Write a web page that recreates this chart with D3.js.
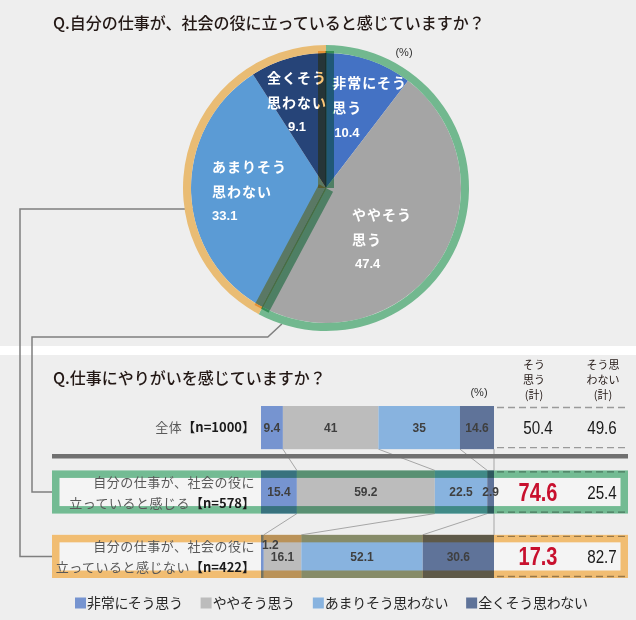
<!DOCTYPE html>
<html><head><meta charset="utf-8">
<script src="https://cdn.jsdelivr.net/npm/d3@7"></script>
<style>
html,body{margin:0;padding:0;background:#eeeeee;}
svg{display:block;}
</style></head><body>
<svg id="c" width="636" height="620"></svg>
<script>
// ---------- data ----------
const pieTitle = "Q.自分の仕事が、社会の役に立っていると感じていますか？";
const barTitle = "Q.仕事にやりがいを感じていますか？";
const categories = ["非常にそう思う","ややそう思う","あまりそう思わない","全くそう思わない"];
const pieLabelLines = [["非常にそう","思う"],["ややそう","思う"],["あまりそう","思わない"],["全くそう","思わない"]];
const pieValues = [10.4, 47.4, 33.1, 9.1];
const groupMembers = [[0,1],[2,3]];          // そう思う / そう思わない
const rowKeys = ["total","feel","notFeel"];
const rowNameLines = [["全体"],["自分の仕事が、社会の役に","立っていると感じる"],["自分の仕事が、社会の役に","立っていると感じない"]];
const rowN = ["【n=1000】","【n=578】","【n=422】"];
const totalValues   = [9.4, 41, 35, 14.6];
const feelValues    = [15.4, 59.2, 22.5, 2.9];
const notFeelValues = [1.2, 16.1, 52.1, 30.6];
const agreeSum    = [50.4, 74.6, 17.3];
const disagreeSum = [49.6, 25.4, 82.7];
const agreeHeader    = ["そう","思う","(計)"];
const disagreeHeader = ["そう思","わない","(計)"];
const unitLabel = "(%)";

// ---------- style ----------
const JP = "'Noto Sans CJK JP','Noto Sans',sans-serif";
const NUM = "'Liberation Sans','Noto Sans',sans-serif";
const pieColors = ["#4472c4","#a5a5a5","#5b9bd5","#264478"];
const barColors = ["#7694d0","#bcbcbc","#88b3df","#5f7399"];
const ringColors = ["#72b88f","#e9bc74"];
const mulColors = ["#78c49a","#fcc677"];

const W = 636, H = 620;
const svg = d3.select("#c");
svg.append("rect").attr("width",W).attr("height",H).attr("fill","#eeeeee");
svg.append("rect").attr("x",0).attr("y",346).attr("width",W).attr("height",9).attr("fill","#ffffff");

svg.append("text").attr("x",53).attr("y",29).text(pieTitle)
  .attr("font-family",JP).attr("font-size",16).attr("font-weight",500).attr("fill","#231815");
svg.append("text").attr("x",53).attr("y",384).text(barTitle)
  .attr("font-family",JP).attr("font-size",16).attr("font-weight",500).attr("fill","#231815");

// ---------- pie ----------
const cx = 326, cy = 188, R = 135, RING = 8, BW = 8.5;
const arcs = d3.pie().sort(null).value(d=>d)(pieValues);
const arc = d3.arc().innerRadius(0).outerRadius(R);
const groups = groupMembers.map(m => ({start: arcs[m[0]].startAngle, end: arcs[m[m.length-1]].endAngle}));

// bar scales (needed for connector targets)
const x = d3.scaleLinear().domain([0,100]).range([261,494]);
const y = d3.scaleBand().domain(rowKeys).range([406,578]).paddingInner(0.33);
const bw = y.bandwidth();
const boxLeft = 52, boxRight = 628;

// connectors from pie groups to boxes
const polar = (a, r) => [cx + r*Math.sin(a), cy - r*Math.cos(a)];
{
  const p = polar(198*Math.PI/180, R+RING);
  const yMid = y("feel") + bw/2;
  svg.append("path").attr("d", `M${p[0]},${p[1]} L${p[0]-14},${p[1]+13} H32 V${yMid} H${boxLeft}`)
    .attr("fill","none").attr("stroke","#7f7f7f").attr("stroke-width",1.5);
  const q = polar(261*Math.PI/180, R);
  const yMid2 = y("notFeel") + bw/2;
  svg.append("path").attr("d", `M${q[0]},${q[1]} H20 V${yMid2} H${boxLeft}`)
    .attr("fill","none").attr("stroke","#7f7f7f").attr("stroke-width",1.5);
}

const gPie = svg.append("g").attr("transform",`translate(${cx},${cy})`);
gPie.selectAll("path.slice").data(arcs).join("path").attr("class","slice")
  .attr("d",arc).attr("fill",(d,i)=>pieColors[i]);

// pie labels
const labelArc = d3.arc().innerRadius(85).outerRadius(85);
const pieLabelLayout = [
  {dx:-21, dy:-24.5, numDx:2, numCenter:false},
  {dx:-45.5, dy:-19, numDx:3, numCenter:false},
  {dx:-29, dy:-24.5, numDx:0, numCenter:false},
  {dx:-35, dy:-28.5, numDx:0, numCenter:true}
];
arcs.forEach((d,i) => {
  const c = labelArc.centroid(d);
  const L = pieLabelLayout[i];
  const lx = c[0] + L.dx, ly = c[1] + L.dy;
  const g = gPie.append("g");
  let maxW = 0;
  pieLabelLines[i].forEach((t,j) => {
    const tx = g.append("text").attr("x",lx).attr("y",ly + j*25 + 5).text(t)
      .attr("font-family",JP).attr("font-size",14).attr("font-weight",700)
      .attr("letter-spacing",1).attr("fill","#ffffff");
    maxW = Math.max(maxW, tx.node().getComputedTextLength());
  });
  const nt = g.append("text").attr("y", ly + 49 + 4.5).text(d.data.toFixed(1))
    .attr("font-family",NUM).attr("font-size",13).attr("font-weight",700).attr("fill","#ffffff");
  if (L.numCenter) nt.attr("x", lx + maxW/2).attr("text-anchor","middle");
  else nt.attr("x", lx + L.numDx);
});

// outer group rings
groups.forEach((g,gi) => {
  gPie.append("path")
    .attr("d", d3.arc().innerRadius(R).outerRadius(R+RING).startAngle(g.start).endAngle(g.end)())
    .attr("fill", ringColors[gi]);
});
// radial group bands (multiply)
groups.forEach((g,gi) => {
  [{a:g.start, side:1},{a:g.end, side:-1}].forEach(b => {
    gPie.append("rect")
      .attr("transform",`rotate(${b.a*180/Math.PI})`)
      .attr("x", b.side>0 ? -0.5 : -BW+0.5).attr("y", -(R+2))
      .attr("width", BW).attr("height", R+2)
      .attr("fill", mulColors[gi]).style("mix-blend-mode","multiply");
  });
});
svg.append("text").attr("x",404).attr("y",56).attr("text-anchor","middle").text(unitLabel)
  .attr("font-family",NUM).attr("font-size",11).attr("fill","#333");

// ---------- bars ----------
const rowValues = [totalValues, feelValues, notFeelValues];
const cum = rowValues.map(v => { let s=0; return [0, ...v.map(d => (s+=d))]; });
const rowHighlight = [-1, 0, 1];

rowKeys.forEach((k,i) => {
  if (rowHighlight[i] < 0) return;
  svg.append("rect").attr("x",boxLeft).attr("y",y(k)).attr("width",boxRight-boxLeft).attr("height",bw)
    .attr("fill","#f4f4f4");
});

for (let i=0;i<rowKeys.length-1;i++){
  for (let k=1;k<=4;k++){
    svg.append("line")
      .attr("x1", x(cum[i][k])).attr("y1", y(rowKeys[i])+bw)
      .attr("x2", x(cum[i+1][k])).attr("y2", y(rowKeys[i+1]))
      .attr("stroke","#a6a6a6").attr("stroke-width",1);
  }
}

rowKeys.forEach((k,i) => {
  rowValues[i].forEach((v,j) => {
    svg.append("rect").attr("x", x(cum[i][j])).attr("y", y(k))
      .attr("width", x(cum[i][j+1]) - x(cum[i][j])).attr("height", bw)
      .attr("fill", barColors[j]);
  });
});

const sepY = y("total") + bw + 7;
svg.append("line").attr("x1",boxLeft).attr("x2",boxRight).attr("y1",sepY).attr("y2",sepY)
  .attr("stroke","#707070").attr("stroke-width",4.5);

rowKeys.forEach(k => {
  [y(k)+1.5, y(k)+bw-1.5].forEach(yy => {
    svg.append("line").attr("x1",497).attr("x2",boxRight).attr("y1",yy).attr("y2",yy)
      .attr("stroke","#9a9a9a").attr("stroke-width",1.3).attr("stroke-dasharray","7,4");
  });
});

const SW = 7.5;
rowKeys.forEach((k,i) => {
  const h = rowHighlight[i];
  if (h < 0) return;
  svg.append("rect").attr("x",boxLeft+SW/2).attr("y",y(k)+SW/2)
    .attr("width",boxRight-boxLeft-SW).attr("height",bw-SW)
    .attr("fill","none").attr("stroke",mulColors[h]).attr("stroke-width",SW)
    .style("mix-blend-mode","multiply");
});

rowKeys.forEach((k,i) => {
  const yc = y(k) + bw/2;
  rowValues[i].forEach((v,j) => {
    const x0 = x(cum[i][j]), x1 = x(cum[i][j+1]);
    const t = svg.append("text").text(v)
      .attr("font-family",NUM).attr("font-size",12).attr("font-weight",700).attr("fill","#3f3f3f");
    if (x1 - x0 < 5) {
      t.attr("x", x0 + 1).attr("y", yc - 12 + 4.3);
    } else {
      t.attr("x",(x0+x1)/2).attr("y", yc + 4.3).attr("text-anchor","middle");
    }
  });
});

rowKeys.forEach((k,i) => {
  const yc = y(k) + bw/2;
  const lines = rowNameLines[i];
  const offs = lines.length === 1 ? [0] : [-10, 11];
  lines.forEach((ln,j) => {
    const t = svg.append("text").attr("x",255).attr("y", yc + offs[j] + 4.7).attr("text-anchor","end")
      .attr("font-family",JP).attr("font-size",13);
    t.append("tspan").text(ln).attr("fill","#595959").attr("letter-spacing",0.5);
    if (j === lines.length-1) {
      t.append("tspan").text(rowN[i]).attr("fill","#1a1a1a").attr("font-weight",700);
    }
  });
});

// summary columns (condensed look via horizontal scale)
const colX = {agree:538, disagree:602};
const NARROW_SCALE = 0.8;
rowKeys.forEach((k,i) => {
  const yc = y(k) + bw/2;
  const hl = rowHighlight[i] >= 0;
  const fs = hl ? 25 : 19;
  svg.append("text").attr("transform",`translate(${colX.agree},${yc + fs*0.36}) scale(${NARROW_SCALE},1)`)
    .attr("text-anchor","middle").text(agreeSum[i].toFixed(1))
    .attr("font-family",NUM).attr("font-size",fs).attr("font-weight",hl?700:400)
    .attr("fill", hl ? "#c8102e" : "#1a1a1a");
  svg.append("text").attr("transform",`translate(${colX.disagree},${yc + 19*0.36}) scale(${NARROW_SCALE},1)`)
    .attr("text-anchor","middle").text(disagreeSum[i].toFixed(1))
    .attr("font-family",NUM).attr("font-size",19).attr("fill","#1a1a1a");
});
[[agreeHeader,534],[disagreeHeader,603]].forEach(([lines,hx]) => {
  lines.forEach((t,j) => {
    svg.append("text").attr("x",hx).attr("y",365 + j*15 + 4).attr("text-anchor","middle").text(t)
      .attr("font-family",JP).attr("font-size",11).attr("fill","#231815");
  });
});
svg.append("text").attr("x",479).attr("y",396).attr("text-anchor","middle").text(unitLabel)
  .attr("font-family",NUM).attr("font-size",11).attr("fill","#333");

// legend
let lx = 75;
const ly = 603;
categories.forEach((c,i) => {
  svg.append("rect").attr("x",lx).attr("y",ly-5.5).attr("width",11).attr("height",11).attr("fill",barColors[i]);
  const t = svg.append("text").attr("x",lx+12).attr("y",ly+5).text(c)
    .attr("font-family",JP).attr("font-size",14).attr("letter-spacing",-0.3).attr("fill","#262626");
  lx += 12 + t.node().getComputedTextLength() + 18;
});
</script>
</body></html>
